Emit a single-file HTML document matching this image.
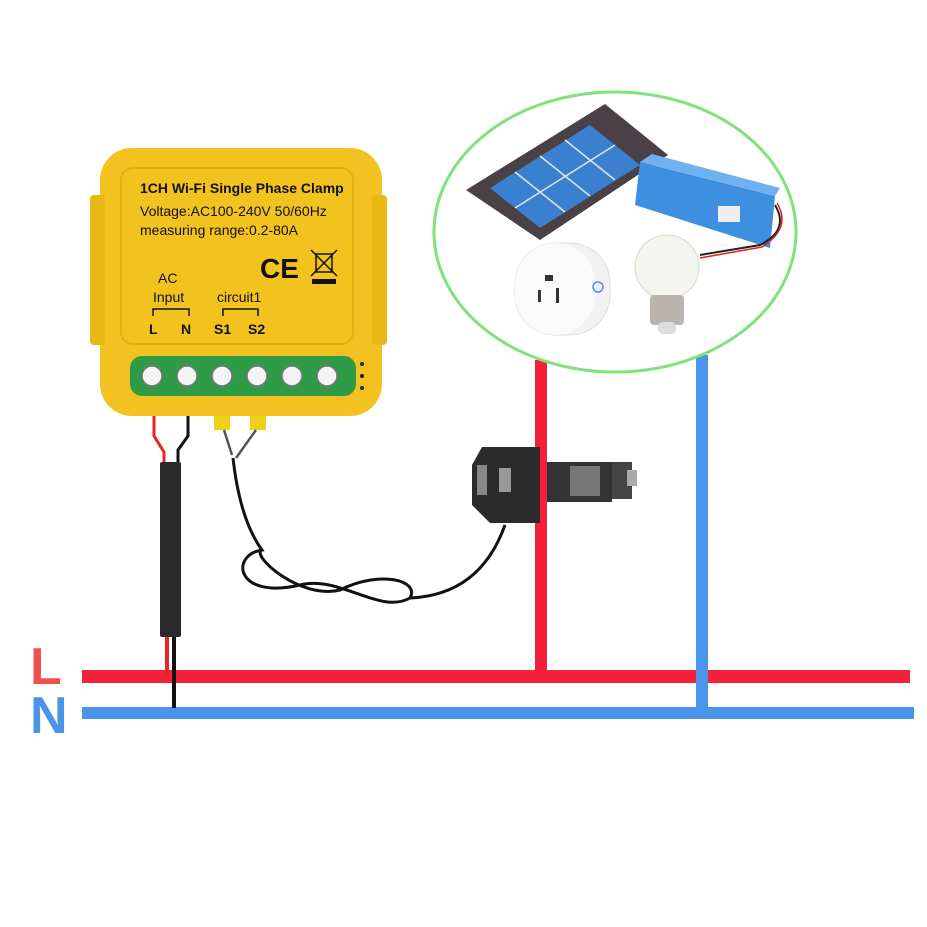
<!DOCTYPE html>
<html><head><style>
body{margin:0;background:#fff;}
svg{display:block;}
text{font-family:"Liberation Sans",sans-serif;}
</style></head><body>
<svg width="927" height="927" viewBox="0 0 927 927" xmlns="http://www.w3.org/2000/svg">
<rect width="927" height="927" fill="#fff"/>
<rect x="82" y="670" width="828" height="13" fill="#f5203a"/>
<rect x="82" y="707" width="832" height="12" fill="#4a94ea"/>
<rect x="535" y="360" width="12" height="318" fill="#f5203a"/>
<rect x="696" y="355" width="12" height="358" fill="#4a94ea"/>
<text x="30" y="684" font-size="52" font-weight="bold" fill="#f05050">L</text>
<text x="30" y="733" font-size="52" font-weight="bold" fill="#4a94ea">N</text>
<ellipse cx="615" cy="232" rx="181" ry="140" fill="#fff" stroke="#80e27a" stroke-width="3"/>
<polygon points="466,190 605,104 668,155 540,240" fill="#4a4146"/>
<polygon points="490,188 590,125 640,165 540,228" fill="#3a7fd0"/>
<g stroke="#dfe6f0" stroke-width="1.5">
<line x1="515" y1="172" x2="565" y2="212"/><line x1="540" y1="156" x2="590" y2="196"/><line x1="565" y1="140" x2="615" y2="180"/>
<line x1="515" y1="208" x2="615" y2="145"/>
</g>
<polygon points="640,162 775,196 770,248 635,205" fill="#3e8fe0"/>
<polygon points="640,162 652,154 780,188 775,196" fill="#6fb0ee"/>
<rect x="718" y="206" width="22" height="16" fill="#eee"/>
<path d="M775,205 Q790,230 760,245 L700,255" stroke="#222" stroke-width="2" fill="none"/>
<path d="M777,203 Q792,228 762,247 L700,258" stroke="#d22" stroke-width="1.5" fill="none"/>
<rect x="515" y="243" width="95" height="92" rx="40" fill="#f2f2f2" stroke="#ddd"/>
<rect x="515" y="243" width="80" height="92" rx="40" fill="#fafafa"/>
<path d="M545,275 h8 v6 h-8z" fill="#333"/><rect x="538" y="290" width="3" height="12" fill="#333"/><rect x="556" y="288" width="3" height="15" fill="#333"/>
<circle cx="598" cy="287" r="5" fill="none" stroke="#4a94ea" stroke-width="1.5"/>
<circle cx="667" cy="267" r="32" fill="#f4f4f0" stroke="#e0d6c8"/>
<rect x="650" y="295" width="34" height="30" rx="4" fill="#b9b5ae"/>
<rect x="658" y="322" width="18" height="12" rx="5" fill="#ddd"/>
<rect x="100" y="148" width="282" height="268" rx="32" fill="#f3c220"/>
<rect x="90" y="195" width="15" height="150" rx="4" fill="#e9b812"/>
<rect x="372" y="195" width="15" height="150" rx="4" fill="#e9b812"/>
<rect x="121" y="168" width="232" height="176" rx="12" fill="#f2c21f" stroke="#e2b012" stroke-width="2"/>
<text x="140" y="193" font-size="14" font-weight="bold" fill="#111">1CH Wi-Fi Single Phase Clamp</text>
<text x="140" y="216" font-size="14" fill="#111">Voltage:AC100-240V 50/60Hz</text>
<text x="140" y="235" font-size="14" fill="#111">measuring range:0.2-80A</text>
<text x="260" y="278" font-size="28" font-weight="bold" fill="#111">CE</text>
<g stroke="#111" stroke-width="1.5" fill="none"><rect x="316" y="254" width="16" height="18"/><line x1="311" y1="250" x2="337" y2="276"/><line x1="337" y1="250" x2="311" y2="276"/></g>
<rect x="312" y="279" width="24" height="5" fill="#111"/>
<text x="158" y="283" font-size="14" fill="#111">AC</text>
<text x="153" y="302" font-size="14" fill="#111">Input</text>
<text x="217" y="302" font-size="14" fill="#111">circuit1</text>
<path d="M153,316 v-7 h36 v7 M223,316 v-7 h35 v7" stroke="#111" stroke-width="1.5" fill="none"/>
<text x="149" y="334" font-size="14" font-weight="bold" fill="#111">L</text>
<text x="181" y="334" font-size="14" font-weight="bold" fill="#111">N</text>
<text x="214" y="334" font-size="14" font-weight="bold" fill="#111">S1</text>
<text x="248" y="334" font-size="14" font-weight="bold" fill="#111">S2</text>
<rect x="130" y="356" width="226" height="40" rx="12" fill="#2f9a48"/>
<g fill="#f4f4f4" stroke="#777" stroke-width="1.5">
<circle cx="152" cy="376" r="10"/><circle cx="187" cy="376" r="10"/><circle cx="222" cy="376" r="10"/><circle cx="257" cy="376" r="10"/><circle cx="292" cy="376" r="10"/><circle cx="327" cy="376" r="10"/>
</g>
<g fill="#222"><circle cx="362" cy="364" r="2"/><circle cx="362" cy="376" r="2"/><circle cx="362" cy="388" r="2"/></g>
<path d="M154,416 v20 l10,16 v12" stroke="#e22" stroke-width="3" fill="none"/>
<path d="M188,416 v20 l-10,14 v12" stroke="#111" stroke-width="3" fill="none"/>
<rect x="160" y="462" width="21" height="175" rx="2" fill="#2a2a2a"/>
<rect x="165" y="637" width="4" height="40" fill="#e22"/>
<rect x="172" y="637" width="4" height="71" fill="#111"/>
<rect x="214" y="416" width="16" height="14" fill="#e8d21a"/>
<rect x="250" y="416" width="16" height="14" fill="#e8d21a"/>
<path d="M224,430 l8,25 M256,430 l-20,28" stroke="#555" stroke-width="2.5" fill="none"/>
<path d="M233,458 Q240,520 262,550 C230,555 235,600 300,585 C340,575 380,615 410,598 C420,580 380,570 340,590 C300,600 250,555 262,550 M410,598 Q480,595 505,525" stroke="#111" stroke-width="3" fill="none"/>
<polygon points="482,447 540,447 540,523 490,523 472,505 472,465" fill="#2b2b2b"/>
<rect x="547" y="462" width="65" height="40" fill="#333"/>
<rect x="612" y="462" width="20" height="37" fill="#444"/>
<rect x="627" y="470" width="10" height="16" fill="#aaa"/>
<rect x="570" y="466" width="30" height="30" fill="#777"/>
<rect x="499" y="468" width="12" height="24" fill="#999"/>
<rect x="477" y="465" width="10" height="30" fill="#888"/>
</svg>
</body></html>
